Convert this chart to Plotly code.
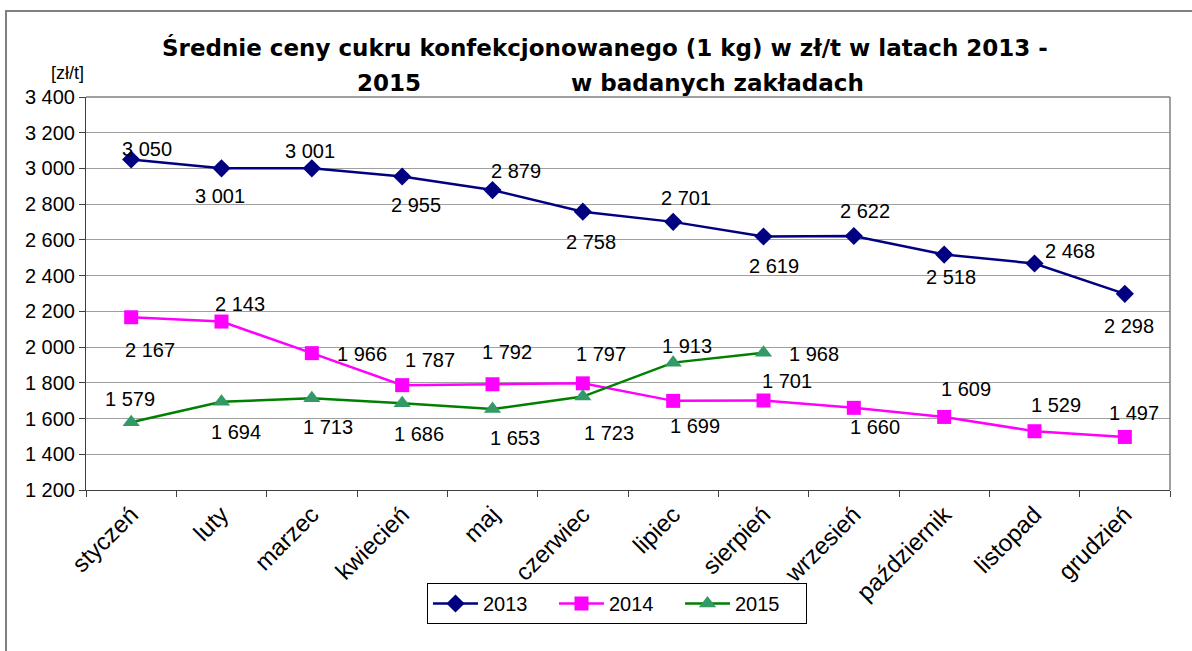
import plotly.graph_objects as go

months = ["styczeń", "luty", "marzec", "kwiecień", "maj", "czerwiec", "lipiec",
          "sierpień", "wrzesień", "październik", "listopad", "grudzień"]
v2013 = [3050, 3001, 3001, 2955, 2879, 2758, 2701, 2619, 2622, 2518, 2468, 2298]
v2014 = [2167, 2143, 1966, 1787, 1792, 1797, 1699, 1701, 1660, 1609, 1529, 1497]
v2015 = [1579, 1694, 1713, 1686, 1653, 1723, 1913, 1968]
y_ticks = [1200, 1400, 1600, 1800, 2000, 2200, 2400, 2600, 2800, 3000, 3200, 3400]

# label offsets in pixels (xshift, yshift) — styling only
off2013 = [(16, 11), (-2, -28), (-2, 17), (14, -29), (23, 19), (8, -30), (13, 24),
           (10, -29), (11, 25), (7, -22), (35, 12), (4, -32)]
off2014 = [(19, -33), (18, 18), (50, -1), (28, 25), (14, 32), (18, 29), (22, -25),
           (23, 20), (21, -19), (22, 28), (21, 26), (9, 24)]
off2015 = [(-1, 23), (14, -30), (16, -29), (17, -31), (22, -29), (26, -36), (14, 17), (50, -1)]

FONT = "Liberation Sans, Arial, sans-serif"

def fmt(v):
    return f"{v:,}".replace(",", " ")

fig = go.Figure()
fig.add_trace(go.Scatter(x=months, y=v2013, name="2013", mode="lines+markers",
                         line=dict(color="#000080", width=2.5),
                         marker=dict(symbol="diamond", size=14, color="#000080")))
fig.add_trace(go.Scatter(x=months, y=v2014, name="2014", mode="lines+markers",
                         line=dict(color="#FF00FF", width=2.5),
                         marker=dict(symbol="square", size=14, color="#FF00FF")))
fig.add_trace(go.Scatter(x=months[:len(v2015)], y=v2015, name="2015", mode="lines+markers",
                         line=dict(color="#008000", width=2.5),
                         marker=dict(symbol="triangle-up", size=15, color="#339966")))

annotations = []
for vals, offs in ((v2013, off2013), (v2014, off2014), (v2015, off2015)):
    for m, v, (dx, dy) in zip(months, vals, offs):
        annotations.append(dict(x=m, y=v, xref="x", yref="y", text=fmt(v), showarrow=False,
                                xshift=dx, yshift=dy, xanchor="center", yanchor="middle",
                                font=dict(family=FONT, size=20, color="black")))

# plot area: x 86..1170, y 97..490 px
def px_x(p):
    return (p - 86) / 1084.0

def px_y(p):
    return (490 - p) / 393.0

TFONT = dict(family="DejaVu Sans, Verdana, sans-serif", size=23, color="black")
annotations.append(dict(xref="paper", yref="paper", x=px_x(605), y=px_y(47), showarrow=False,
                        text="<b>Średnie ceny cukru konfekcjonowanego (1 kg) w zł/t w latach 2013 -</b>",
                        xanchor="center", yanchor="middle", font=TFONT))
annotations.append(dict(xref="paper", yref="paper", x=px_x(389), y=px_y(83), showarrow=False,
                        text="<b>2015</b>", xanchor="center", yanchor="middle", font=TFONT))
annotations.append(dict(xref="paper", yref="paper", x=px_x(717), y=px_y(83), showarrow=False,
                        text="<b>w badanych zakładach</b>", xanchor="center", yanchor="middle", font=TFONT))
annotations.append(dict(xref="paper", yref="paper", x=px_x(67), y=px_y(73), showarrow=False,
                        text="[zł/t]", xanchor="center", yanchor="middle",
                        font=dict(family=FONT, size=18, color="black")))

shapes = [
    dict(type="line", xref="paper", yref="paper", x0=0, x1=1, y0=1, y1=1,
         line=dict(color="#808080", width=1.5)),
    dict(type="line", xref="paper", yref="paper", x0=1, x1=1, y0=0, y1=1,
         line=dict(color="#808080", width=1.5)),
    dict(type="rect", xref="paper", yref="paper", x0=px_x(6), x1=px_x(1197),
         y0=px_y(657), y1=px_y(11), line=dict(color="#808080", width=2)),
]

fig.update_layout(
    width=1192, height=651,
    margin=dict(l=86, r=22, t=97, b=161),
    paper_bgcolor="white", plot_bgcolor="white",
    separators=", ",
    showlegend=True,
    legend=dict(orientation="h", x=px_x(427), xanchor="left", y=px_y(583), yanchor="top",
                bordercolor="black", borderwidth=1, bgcolor="white", entrywidth=66,
                itemwidth=45,
                font=dict(family=FONT, size=20, color="black")),
    annotations=annotations,
    shapes=shapes,
    xaxis=dict(type="category", tickson="boundaries", ticks="outside", ticklen=6,
               tickcolor="#404040", showline=True, linecolor="#404040", linewidth=1,
               tickangle=-45, showgrid=False, range=[-0.5, 11.5],
               tickfont=dict(family=FONT, size=24, color="black")),
    yaxis=dict(range=[1200, 3400], tickmode="array", tickvals=y_ticks, ticks="outside", ticklen=6,
               tickcolor="#404040", showline=True, linecolor="#404040", linewidth=1,
               showgrid=True, gridcolor="#a0a0a0", gridwidth=1, zeroline=False,
               tickformat=",d", tickfont=dict(family=FONT, size=20, color="black")),
)

fig.write_html("out.html", config={"displayModeBar": False},
               post_script="document.body.style.margin='0';document.body.style.overflow='hidden';")
